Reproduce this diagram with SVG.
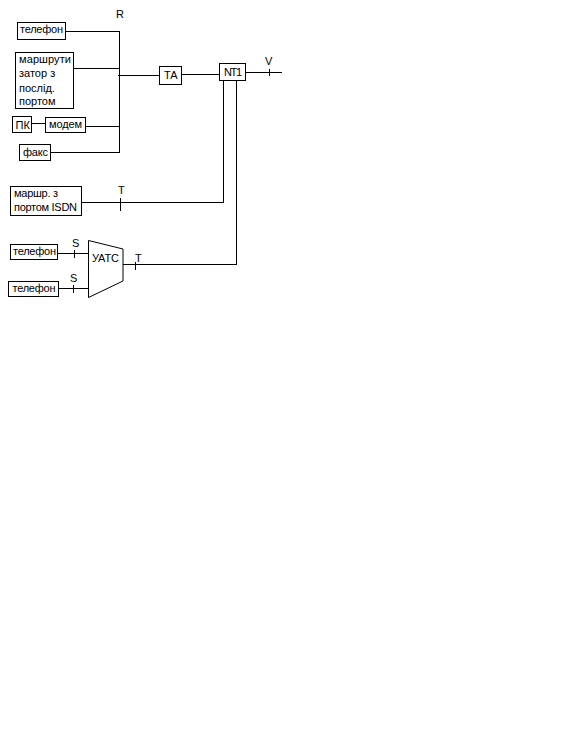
<svg xmlns="http://www.w3.org/2000/svg" width="570" height="739" viewBox="0 0 570 739">
<style>
rect,polygon{fill:#fff;stroke:#000;stroke-width:1}
.c path{fill:none;stroke:#000;stroke-width:1}
text{font-family:"Liberation Sans",Arial,sans-serif;font-size:11px;fill:#000}
</style>
<rect width="570" height="739" style="fill:#fff;stroke:none"/>
<g class="c" id="connectors" shape-rendering="crispEdges">
<path d="M66 31.500H119.500M119.500 31V152M73 68.500H119.500M118 75.500H159M86 126.500H119.500M32 123.500H46M50 152.500H119.500"/>
<path d="M182 74.500H219M246 72.500H282M269.500 69V76"/>
<path d="M82 202.500H223.500V81M120.500 198V211"/>
<path d="M236.500 81V264.500H123M135.500 262V270"/>
<path d="M58 253.500H88M74.500 250V258M59 288.500H88M73.500 285V293"/>
</g>
<g id="r-label"><text x="116" y="18">R</text></g>
<g id="v-label"><text x="265" y="65">V</text></g>
<g id="t-label-1"><text x="118" y="194">T</text></g>
<g id="t-label-2"><text x="135" y="262">T</text></g>
<g id="s-label-1"><text x="72" y="247">S</text></g>
<g id="s-label-2"><text x="70" y="282">S</text></g>
<g id="phone1" shape-rendering="crispEdges"><rect x="17.500" y="22.500" width="48" height="17"/><text x="20" y="33" textLength="43">телефон</text></g>
<g id="router" shape-rendering="crispEdges"><rect x="15.500" y="52.500" width="58" height="56"/><text x="19" y="63" textLength="52">маршрути</text><text x="19" y="77">затор з</text><text x="19" y="92">послід.</text><text x="19" y="105">портом</text></g>
<g id="pc" shape-rendering="crispEdges"><rect x="12.500" y="116.500" width="19" height="16"/><text x="15.500" y="129">ПК</text></g>
<g id="modem" shape-rendering="crispEdges"><rect x="45.500" y="117.500" width="40" height="15"/><text x="49" y="128" textLength="33">модем</text></g>
<g id="fax" shape-rendering="crispEdges"><rect x="19.500" y="144.500" width="31" height="16"/><text x="23" y="156" textLength="25">факс</text></g>
<g id="ta" shape-rendering="crispEdges"><rect x="159.500" y="66.500" width="22" height="18"/><text x="164" y="79">ТА</text></g>
<g id="nt1" shape-rendering="crispEdges"><rect x="219.500" y="63.500" width="26" height="17"/><text x="224" y="76" textLength="18">NT1</text></g>
<g id="router-isdn" shape-rendering="crispEdges"><rect x="10.500" y="186.500" width="71" height="29"/><text x="14" y="197" textLength="44">маршр. з</text><text x="14" y="211" textLength="63">портом ISDN</text></g>
<g id="phone2" shape-rendering="crispEdges"><rect x="10.500" y="244.500" width="47" height="15"/><text x="13" y="255" textLength="43">телефон</text></g>
<g id="phone3" shape-rendering="crispEdges"><rect x="8.500" y="281.500" width="50" height="15"/><text x="12.500" y="292" textLength="43">телефон</text></g>
<g id="uats"><polygon points="88.500,240.500 123,249 123,281 88.500,297.500"/><text x="92" y="262" textLength="27">УАТС</text></g>
</svg>
